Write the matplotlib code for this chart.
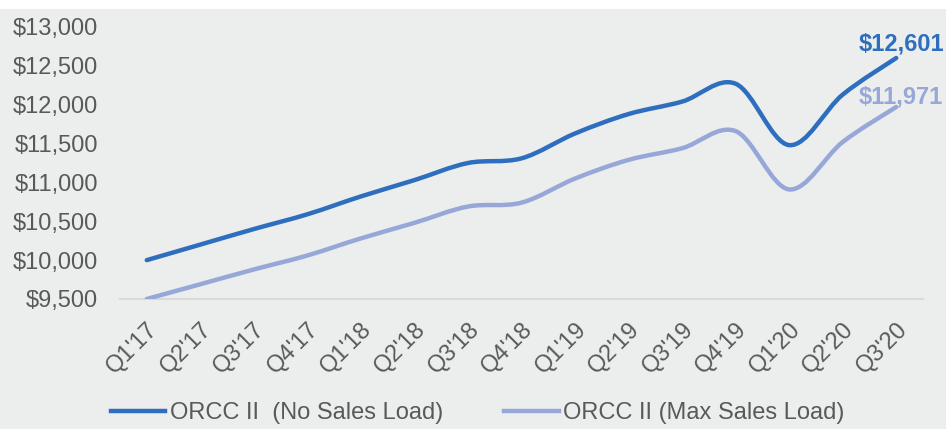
import matplotlib
matplotlib.use("Agg")
import matplotlib.pyplot as plt
from matplotlib.path import Path
from matplotlib.patches import PathPatch, Rectangle
from matplotlib.lines import Line2D
import numpy as np

plt.rcParams['font.family'] = ['Liberation Sans', 'DejaVu Sans']

quarters = ["Q1'17", "Q2'17", "Q3'17", "Q4'17", "Q1'18", "Q2'18", "Q3'18", "Q4'18",
            "Q1'19", "Q2'19", "Q3'19", "Q4'19", "Q1'20", "Q2'20", "Q3'20"]
no_load = [10000, 10200, 10400, 10590, 10820, 11030, 11250, 11310,
           11630, 11880, 12040, 12270, 11480, 12130, 12601]
max_load = [9500, 9690, 9880, 10060, 10280, 10480, 10690, 10740,
            11050, 11290, 11440, 11660, 10910, 11520, 11971]
series_names = ["ORCC II  (No Sales Load)", "ORCC II (Max Sales Load)"]
yticks = [9500, 10000, 10500, 11000, 11500, 12000, 12500, 13000]

c_dark = '#2E6EBE'
c_light = '#97A8D8'
c_text = '#595959'
bg = '#ECEDED'
fs = 17

fig = plt.figure(figsize=(9.46, 4.29), dpi=100, facecolor='white')
fig.patches.append(Rectangle((0, 0), 1, 1 - 9/429, transform=fig.transFigure,
                             facecolor=bg, edgecolor='none', zorder=-10))
ax = fig.add_axes([120/946, 1 - 299/429, (923-120)/946, (299-27)/429])
ax.set_facecolor(bg)
ax.patch.set_alpha(0)

def smooth_path(xs, ys, t=1/6):
    xs = np.asarray(xs, float); ys = np.asarray(ys, float)
    n = len(xs)
    verts = [(xs[0], ys[0])]
    codes = [Path.MOVETO]
    for i in range(n - 1):
        p0 = i - 1 if i > 0 else i
        p3 = i + 2 if i + 2 < n else i + 1
        c1 = (xs[i] + (xs[i+1] - xs[p0]) * t, ys[i] + (ys[i+1] - ys[p0]) * t)
        c2 = (xs[i+1] - (xs[p3] - xs[i]) * t, ys[i+1] - (ys[p3] - ys[i]) * t)
        verts += [c1, c2, (xs[i+1], ys[i+1])]
        codes += [Path.CURVE4] * 3
    return Path(verts, codes)

x = np.arange(len(quarters))
for vals, col in [(max_load, c_light), (no_load, c_dark)]:
    patch = PathPatch(smooth_path(x, vals), facecolor='none', edgecolor=col,
                      lw=3.2, capstyle='round', joinstyle='round', zorder=3)
    ax.add_patch(patch)

ax.set_xlim(-0.5, len(quarters) - 0.5)
ax.set_ylim(9500, 13000)
ax.set_yticks(yticks)
ax.set_yticklabels([f"${v:,}" for v in yticks])
ax.set_xticks(x)
ax.set_xticklabels(quarters, rotation=45, ha='right', rotation_mode='anchor')
ax.tick_params(axis='both', length=0, labelsize=fs, colors=c_text)
ax.tick_params(axis='y', pad=16)
ax.tick_params(axis='x', pad=14)
for s in ['top', 'right', 'left']:
    ax.spines[s].set_visible(False)
ax.spines['bottom'].set_color('#D9D9D9')
ax.spines['bottom'].set_linewidth(1.5)

ax.annotate(f"${no_load[-1]:,}", (x[-1], no_load[-1]), xytext=(-38, 14),
            textcoords='offset pixels', ha='left', va='center', fontsize=fs,
            fontweight='bold', color=c_dark, annotation_clip=False)
ax.annotate(f"${max_load[-1]:,}", (x[-1], max_load[-1]), xytext=(-38, 10),
            textcoords='offset pixels', ha='left', va='center', fontsize=fs,
            fontweight='bold', color=c_light, annotation_clip=False)

handles = [Line2D([], [], color=c_dark, lw=3.2), Line2D([], [], color=c_light, lw=3.2)]
fig.legend(handles, series_names, loc='center', bbox_to_anchor=(0.505, 1 - 413/429),
           ncol=2, frameon=False, fontsize=fs, labelcolor=c_text,
           handlelength=2.3, handletextpad=0.2, columnspacing=2.6)

fig.savefig('out.png', dpi=100, facecolor='white')
